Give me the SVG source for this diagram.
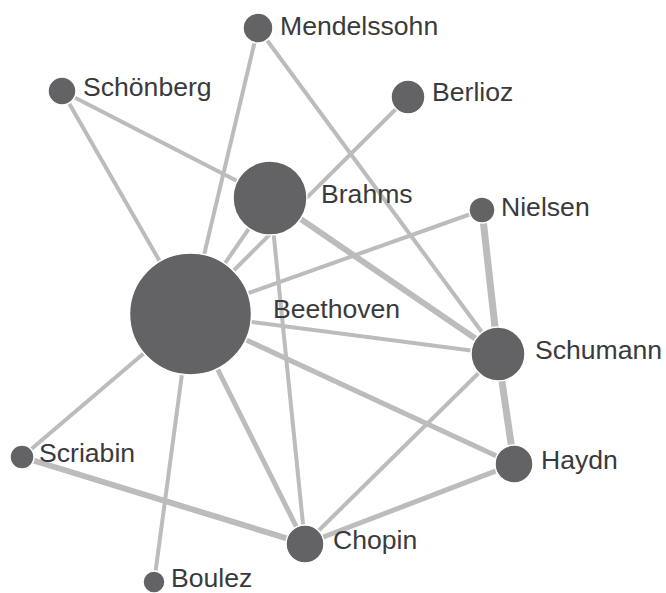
<svg xmlns="http://www.w3.org/2000/svg" width="666" height="593" viewBox="0 0 666 593">
<style>
.e{stroke:#bcbcbe;stroke-linecap:butt;fill:none}
.w4{stroke-width:4}
.w5{stroke-width:5}
.w6{stroke-width:6}
.w7{stroke-width:7}
.n circle{fill:#636365;stroke:#ffffff;stroke-width:1.5}
.n text{font-family:"Liberation Sans",Arial,sans-serif;font-size:26.6px;fill:#3a3a3c}
</style>
<rect width="666" height="593" fill="#ffffff"/>
<g id="edges">
<line class="e w4" x1="258" y1="28" x2="190" y2="314"/>
<line class="e w4" x1="258" y1="28" x2="498" y2="354"/>
<line class="e w4" x1="62" y1="91" x2="190" y2="314"/>
<line class="e w4" x1="62" y1="91" x2="270" y2="198"/>
<line class="e w4" x1="408" y1="97" x2="190" y2="314"/>
<line class="e w4" x1="270" y1="198" x2="190" y2="314"/>
<line class="e w6" x1="270" y1="198" x2="498" y2="354"/>
<line class="e w4" x1="270" y1="198" x2="305" y2="544"/>
<line class="e w4" x1="482" y1="210" x2="190" y2="314"/>
<line class="e w7" x1="482" y1="210" x2="498" y2="354"/>
<line class="e w4" x1="190" y1="314" x2="498" y2="354"/>
<line class="e w5" x1="190" y1="314" x2="514" y2="464"/>
<line class="e w5" x1="190" y1="314" x2="305" y2="544"/>
<line class="e w4" x1="190" y1="314" x2="22" y2="457"/>
<line class="e w4" x1="190" y1="314" x2="154" y2="583"/>
<line class="e w7" x1="498" y1="354" x2="514" y2="464"/>
<line class="e w4" x1="498" y1="354" x2="305" y2="544"/>
<line class="e w6" x1="22" y1="457" x2="305" y2="544"/>
<line class="e w5" x1="514" y1="464" x2="305" y2="544"/>
</g>
<g id="mendelssohn" class="n"><circle cx="258" cy="28" r="15"/><text x="280" y="35">Mendelssohn</text></g>
<g id="schonberg" class="n"><circle cx="62" cy="91" r="14"/><text x="83" y="96">Schönberg</text></g>
<g id="berlioz" class="n"><circle cx="408" cy="97" r="17"/><text x="432" y="101">Berlioz</text></g>
<g id="brahms" class="n"><circle cx="270" cy="198" r="37"/><text x="321" y="203">Brahms</text></g>
<g id="nielsen" class="n"><circle cx="482" cy="210" r="13"/><text x="501" y="216">Nielsen</text></g>
<g id="beethoven" class="n"><circle cx="190.5" cy="314" r="61"/><text x="273" y="318">Beethoven</text></g>
<g id="schumann" class="n"><circle cx="498" cy="354" r="27"/><text x="535" y="359">Schumann</text></g>
<g id="scriabin" class="n"><circle cx="22" cy="457" r="12"/><text x="39" y="462">Scriabin</text></g>
<g id="haydn" class="n"><circle cx="514" cy="464" r="19"/><text x="541" y="469">Haydn</text></g>
<g id="chopin" class="n"><circle cx="305" cy="544" r="19"/><text x="333" y="549">Chopin</text></g>
<g id="boulez" class="n"><circle cx="154" cy="582" r="11"/><text x="171" y="587">Boulez</text></g>
</svg>
